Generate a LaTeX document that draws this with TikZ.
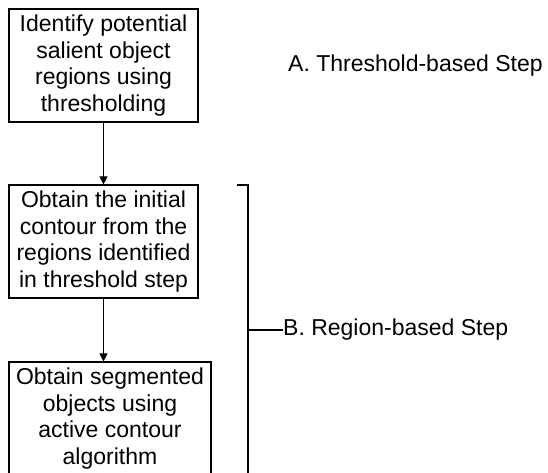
\documentclass[tikz,border=0pt]{standalone}
\usepackage{fontspec}
\setmainfont{Liberation Sans}
\usetikzlibrary{positioning,arrows.meta}

\tikzset{
  stepbox/.style={draw,line width=1.2pt,align=center,inner sep=0pt,
    minimum height=113pt,font=\fontsize{23}{26.5}\selectfont},
  flow/.style={line width=1.1pt,-{Triangle[width=8pt,length=8pt]}},
  steplabel/.style={anchor=west,inner sep=0pt,font=\fontsize{23}{26}\selectfont}
}

\begin{document}
\begin{tikzpicture}[x=1pt,y=-1pt]
            \path[use as bounding box,clip] (0,0) rectangle (548,472);
            % flow boxes
            \node[stepbox,minimum width=189pt] (ident) at (103.5,65.5)
              {Identify potential\\salient object\\regions using\\thresholding};
            \node[stepbox,minimum width=189pt] (contour) at (103.5,241.5)
              {Obtain the initial\\contour from the\\regions identified\\in threshold step};
            \node[stepbox,minimum width=202pt] (segm) at (110,418.5)
              {Obtain segmented\\objects using\\active contour\\algorithm};
            \draw[flow] (ident.south) -- (contour.north);
            \draw[flow] (contour.south) -- (contour.south |- segm.north);
            % steps
            \node[steplabel] (stepA) at (288,65.5) {A. Threshold-based Step};
            \coordinate (brtop) at (237,185);
            \coordinate (brbot) at (248,480);
            \coordinate (brmid) at (248,330);
            \node[steplabel] (stepB) at (283,330) {B. Region-based Step};
            \draw[line width=1.6pt] (brtop) -- (brtop -| brbot) -- (brbot);
            \draw[line width=1.1pt] (brmid) -- (stepB.west);
        \end{tikzpicture}
\end{document}
